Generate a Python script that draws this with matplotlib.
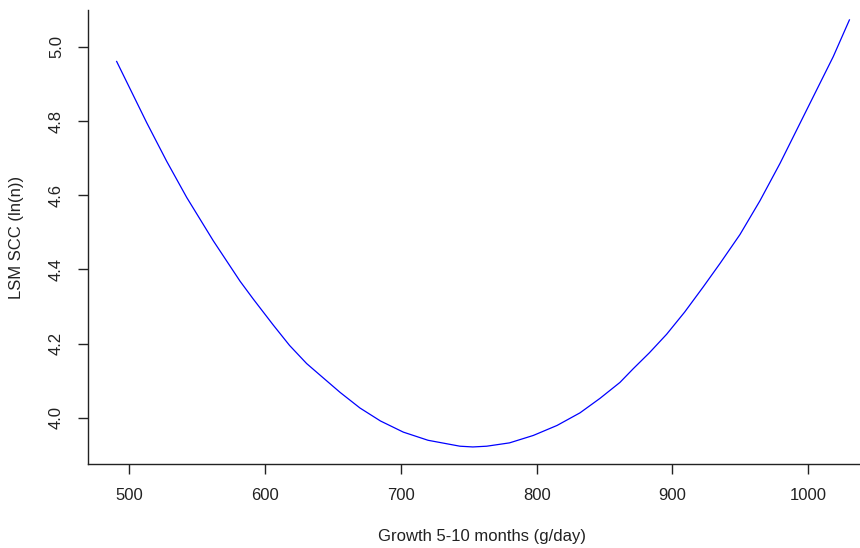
import matplotlib
matplotlib.use("Agg")
import matplotlib.pyplot as plt

growth = [490.7, 512.8, 527.5, 542.3, 561.9, 581.6, 591.3, 606.0, 618.0, 630.6,
          640.4, 655.3, 669.9, 685.0, 701.8, 720.0, 743.5, 753.0, 763.2, 780.0,
          797.5, 815.0, 831.9, 846.6, 861.3, 871.1, 883.0, 895.7, 909.0, 922.7,
          935.0, 949.7, 964.4, 979.2, 993.9, 1003.7, 1018.4, 1030.3]
lsm_scc = [4.961, 4.796, 4.692, 4.594, 4.477, 4.368, 4.320, 4.250, 4.195, 4.146,
           4.115, 4.068, 4.026, 3.991, 3.961, 3.939, 3.923, 3.921, 3.923, 3.932,
           3.952, 3.979, 4.013, 4.052, 4.095, 4.132, 4.175, 4.225, 4.285, 4.353,
           4.416, 4.494, 4.585, 4.686, 4.794, 4.866, 4.974, 5.073]

x_ticks = [500, 600, 700, 800, 900, 1000]
y_ticks = [4.0, 4.2, 4.4, 4.6, 4.8, 5.0]
y_tick_labels = ["4.0", "4.2", "4.4", "4.6", "4.8", "5.0"]

plt.rcParams['font.family'] = ['Liberation Sans', 'DejaVu Sans']

W, H = 860, 548
fig = plt.figure(figsize=(W / 100, H / 100), dpi=100)
left, right, top, bottom = 88, 860, 10, 464
ax = fig.add_axes([left / W, 1 - bottom / H, (right - left) / W, (bottom - top) / H])

ax.plot(growth, lsm_scc, color='#0000FF', linewidth=0.9)

ax.set_xlim(469.6, 1038.1)
ax.set_ylim(3.875, 5.0998)

for s in ['top', 'right']:
    ax.spines[s].set_visible(False)
for s in ['left', 'bottom']:
    ax.spines[s].set_color('#222222')
    ax.spines[s].set_linewidth(1.0)

ax.set_xticks(x_ticks)
ax.set_xticklabels([str(t) for t in x_ticks])
ax.set_yticks(y_ticks)
ax.set_yticklabels(y_tick_labels, rotation=90, va='center')
ax.tick_params(axis='both', direction='out', length=7.2, width=1.0, color='#222222',
               labelsize=12, labelcolor='#222222')
ax.tick_params(axis='x', pad=10)
ax.tick_params(axis='y', pad=10)

fig.text(482 / W, 1 - 536.7 / H, "Growth 5-10 months (g/day)", ha='center', va='center',
         fontsize=12, color='#222222')
fig.text(17 / W, 1 - 237 / H, "LSM SCC (ln(n))", ha='center', va='center', rotation=90,
         fontsize=12, color='#222222')

fig.savefig("out.png", dpi=100)
